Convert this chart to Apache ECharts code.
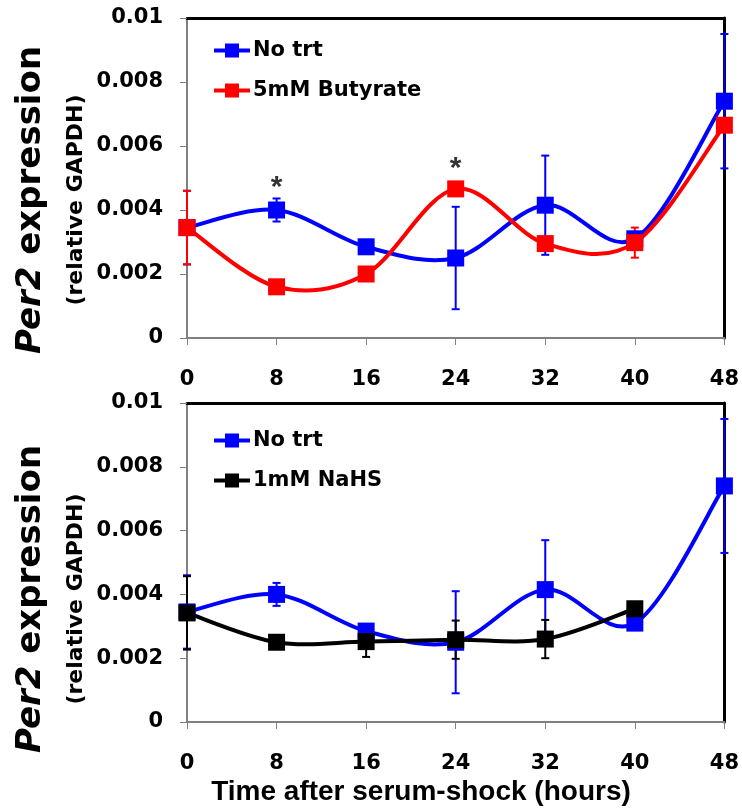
<!DOCTYPE html>
<html>
<head>
<meta charset="utf-8">
<script src="https://cdn.jsdelivr.net/npm/echarts@6/dist/echarts.min.js"></script>
<style>
  html, body { margin: 0; padding: 0; background: #fff; }
  #chart { width: 742px; height: 809px; }
</style>
</head>
<body>
<div id="chart"></div>
<script>
// Sampling times (hours after serum shock)
const hours = [0, 8, 16, 24, 32, 40, 48];

// Per2 expression (relative to GAPDH), mean and error
const noTrt     = [0.00345, 0.0040, 0.00285, 0.0025, 0.00415, 0.0031, 0.0074];
const noTrtErr  = [0.00115, 0.00036, 0.0001, 0.0016, 0.00155, 0.0002, 0.0021];
const butyrate    = [0.00345, 0.0016, 0.0020, 0.00466, 0.00295, 0.00298, 0.00665];
const butyrateErr = [0.00115, 0.0001, 0.0001, 0.0002, 0.0002, 0.00047, 0.0002];
const nahs    = [0.00342, 0.0025, 0.00252, 0.00258, 0.0026, 0.00355, null];
const nahsErr = [0.00115, 0.0001, 0.00048, 0.0006, 0.0006, 0.0001, null];

// Significance markers (top panel)
const sigHours = [8, 24];
const sigLevel = [0.0049, 0.0055];

const seriesNames = ['No trt', '5mM Butyrate', '1mM NaHS'];
const BLUE = '#0000ff', RED = '#ff0000', BLACK = '#000000';
const AXIS_GREY = '#808080';
const WIDE = 'DejaVu Sans';
const ARIAL = '"Liberation Sans", Arial, sans-serif';

// line-with-square legend glyph
const LEGEND_ICON = 'path://M0,5H11V0H25V5H36V9H25V14H11V9H0Z';

const points = (vals) => hours.map((h, i) => [h, vals[i]]).filter(p => p[1] != null);
const triples = (vals, errs) => hours
  .map((h, i) => [h, vals[i], errs[i]])
  .filter(d => d[1] != null);

function errorBars(params, api) {
  const x = api.value(0), y = api.value(1), e = api.value(2);
  const hi = api.coord([x, y + e]);
  const lo = api.coord([x, y - e]);
  const c = api.visual('color');
  const cap = 4;
  const st = { stroke: c, lineWidth: 2 };
  return {
    type: 'group',
    children: [
      { type: 'line', shape: { x1: hi[0], y1: hi[1], x2: lo[0], y2: lo[1] }, style: st },
      { type: 'line', shape: { x1: hi[0] - cap, y1: hi[1], x2: hi[0] + cap, y2: hi[1] }, style: st },
      { type: 'line', shape: { x1: lo[0] - cap, y1: lo[1], x2: lo[0] + cap, y2: lo[1] }, style: st }
    ]
  };
}

// Cardinal (Catmull-Rom style) smoothed curve, one bezier segment per data point
function curveSeries(name, vals, color, xi, yi) {
  const pts = points(vals);
  const t = 1 / 6;
  return {
    name, type: 'custom', xAxisIndex: xi, yAxisIndex: yi,
    data: pts, clip: false, z: 3, itemStyle: { color },
    renderItem(params, api) {
      const i = params.dataIndex;
      if (i >= pts.length - 1) return null;
      const c = k => api.coord(pts[Math.max(0, Math.min(pts.length - 1, k))]);
      const p0 = c(i - 1), p1 = c(i), p2 = c(i + 1), p3 = c(i + 2);
      return {
        type: 'bezierCurve',
        shape: {
          x1: p1[0], y1: p1[1], x2: p2[0], y2: p2[1],
          cpx1: p1[0] + (p2[0] - p0[0]) * t, cpy1: p1[1] + (p2[1] - p0[1]) * t,
          cpx2: p2[0] - (p3[0] - p1[0]) * t, cpy2: p2[1] - (p3[1] - p1[1]) * t
        },
        style: { stroke: color, lineWidth: 4, fill: null }
      };
    }
  };
}

function markerSeries(name, vals, color, xi, yi) {
  return {
    name, type: 'scatter', xAxisIndex: xi, yAxisIndex: yi,
    data: points(vals), symbol: 'rect', symbolSize: 17, clip: false, z: 4,
    itemStyle: { color, opacity: 1 }
  };
}

function errSeries(name, vals, errs, color, xi, yi) {
  return {
    name, type: 'custom', xAxisIndex: xi, yAxisIndex: yi,
    data: triples(vals, errs), renderItem: errorBars, clip: false, z: 2,
    itemStyle: { color }
  };
}

function xAxes(gridIndex) {
  return [
    {
      type: 'value', gridIndex, min: 0, max: 48, interval: 8, position: 'bottom',
      axisLine: { show: true, onZero: false, lineStyle: { color: AXIS_GREY, width: 2 } },
      axisTick: { show: true, length: 7, lineStyle: { color: AXIS_GREY, width: 1 } },
      axisLabel: { margin: 31, color: '#000', fontFamily: WIDE, fontWeight: 'bold', fontSize: 21 },
      splitLine: { show: false }
    },
    {
      type: 'value', gridIndex, min: 0, max: 48, position: 'top',
      axisLine: { show: true, onZero: false, lineStyle: { color: '#000', width: 3 } },
      axisTick: { show: false }, axisLabel: { show: false }, splitLine: { show: false }
    }
  ];
}

function yAxes(gridIndex) {
  return [
    {
      type: 'value', gridIndex, min: 0, max: 0.01, interval: 0.002, position: 'left',
      axisLine: { show: true, onZero: false, lineStyle: { color: AXIS_GREY, width: 2 } },
      axisTick: { show: true, length: 7, lineStyle: { color: AXIS_GREY, width: 1 } },
      axisLabel: {
        margin: 24, color: '#000', fontFamily: WIDE, fontWeight: 'bold', fontSize: 21,
        formatter: v => String(Number(v.toFixed(3)))
      },
      splitLine: { show: false }
    },
    {
      type: 'value', gridIndex, min: 0, max: 0.01, position: 'right',
      axisLine: { show: true, onZero: false, lineStyle: { color: '#000', width: 3 } },
      axisTick: { show: false }, axisLabel: { show: false }, splitLine: { show: false }
    }
  ];
}

function legend(top, names) {
  return {
    data: names.map(n => ({ name: n, icon: LEGEND_ICON })),
    orient: 'vertical', left: 209, top,
    itemWidth: 36, itemHeight: 14, itemGap: 19,
    textStyle: { fontFamily: WIDE, fontWeight: 'bold', fontSize: 21, lineHeight: 20, color: '#000', padding: [0, 0, 0, -2] },
    selectedMode: false
  };
}

function yTitle(cy) {
  return [
    {
      type: 'text', x: 31, y: cy, rotation: Math.PI / 2,
      style: {
        text: '{i|Per2} expression', align: 'center', verticalAlign: 'middle',
        font: 'bold 34px "DejaVu Sans"', fill: '#000',
        rich: { i: { fontStyle: 'italic', fontWeight: 'bold', fontSize: 34, fontFamily: WIDE } }
      }
    },
    {
      type: 'text', x: 76, y: cy, rotation: Math.PI / 2,
      style: {
        text: '(relative GAPDH)', align: 'center', verticalAlign: 'middle',
        font: 'bold 22px "DejaVu Sans"', fill: '#000'
      }
    }
  ];
}

const chart = echarts.init(document.getElementById('chart'), null, { renderer: 'canvas' });

chart.setOption({
  animation: false,
  backgroundColor: '#fff',
  grid: [
    { left: 187, top: 18, width: 542, height: 320 },
    { left: 187, top: 403, width: 542, height: 319 }
  ],
  xAxis: [...xAxes(0), ...xAxes(1)],
  yAxis: [...yAxes(0), ...yAxes(1)],
  legend: [
    legend(35, [seriesNames[0], seriesNames[1]]),
    legend(425, [seriesNames[0], seriesNames[2]])
  ],
  series: [
    // top panel: untreated vs butyrate
    errSeries(seriesNames[0], noTrt, noTrtErr, BLUE, 0, 0),
    errSeries(seriesNames[1], butyrate, butyrateErr, RED, 0, 0),
    curveSeries(seriesNames[0], noTrt, BLUE, 0, 0),
    curveSeries(seriesNames[1], butyrate, RED, 0, 0),
    markerSeries(seriesNames[0], noTrt, BLUE, 0, 0),
    markerSeries(seriesNames[1], butyrate, RED, 0, 0),
    {
      type: 'scatter', xAxisIndex: 0, yAxisIndex: 0, symbolSize: 0, z: 5,
      data: sigHours.map((h, i) => [h, sigLevel[i]]),
      label: {
        show: true, position: 'inside', formatter: '*', color: '#000',
        fontFamily: ARIAL, fontWeight: 'bold', fontSize: 30, offset: [0, 7]
      }
    },
    // bottom panel: untreated vs NaHS
    errSeries(seriesNames[0], noTrt, noTrtErr, BLUE, 2, 2),
    errSeries(seriesNames[2], nahs, nahsErr, BLACK, 2, 2),
    curveSeries(seriesNames[0], noTrt, BLUE, 2, 2),
    curveSeries(seriesNames[2], nahs, BLACK, 2, 2),
    markerSeries(seriesNames[0], noTrt, BLUE, 2, 2),
    markerSeries(seriesNames[2], nahs, BLACK, 2, 2)
  ],
  graphic: [
    ...yTitle(200),
    ...yTitle(599),
    {
      type: 'text', x: 421, y: 792,
      style: {
        text: 'Time after serum-shock (hours)', align: 'center', verticalAlign: 'middle',
        font: 'bold 28px "Liberation Sans", Arial, sans-serif', fill: '#000'
      }
    }
  ]
});
</script>
</body>
</html>
